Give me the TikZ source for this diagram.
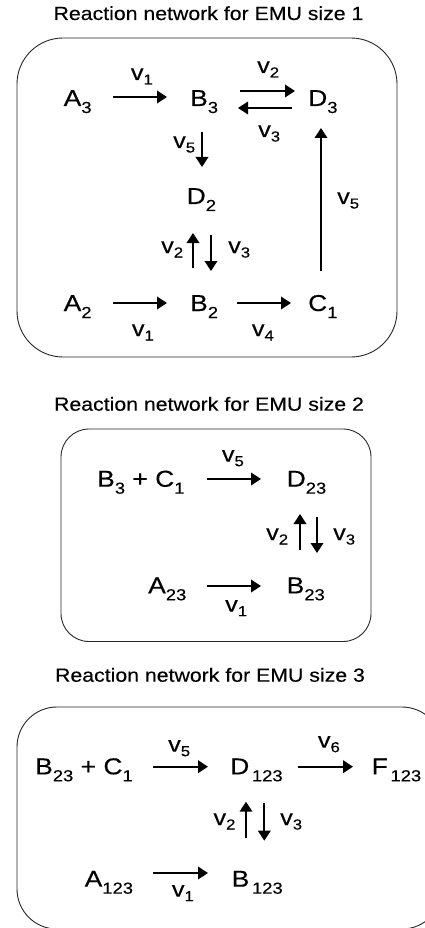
\documentclass[tikz,border=0pt]{standalone}
\usepackage{fontspec}
\setmainfont{Liberation Sans}
\newfontfamily\lblfont[FakeStretch=1.15,FakeBold=0.3]{Liberation Sans}
\newfontfamily\ttlfont[FakeStretch=1.12,FakeBold=0.2]{Liberation Sans}
\usetikzlibrary{arrows.meta,calc}

% species with a lowered index, and a flux label v_i
\newcommand{\bigtxt}{\lblfont\fontsize{23}{27}\selectfont}
\newcommand{\mol}[2]{{\bigtxt #1\raisebox{-7pt}{\fontsize{16}{18}\selectfont #2}}}
\newcommand{\rate}[1]{{\lblfont\fontsize{22}{25}\selectfont v\raisebox{-4.5pt}{\fontsize{14.5}{16}\selectfont #1}}}

\tikzset{
  lab/.style={inner sep=0pt, anchor=base west, font=\bigtxt},
  ttl/.style={inner sep=0pt, anchor=base, font=\ttlfont\fontsize{19}{22}\selectfont},
  panel/.style={draw=black!85, line width=0.9pt},
  rxn/.style={line width=2.1pt, -{Triangle[length=10pt,width=12.5pt]}},
}

\begin{document}
\begin{tikzpicture}[x=1pt,y=-1pt]
\useasboundingbox (0,0) rectangle (425,928);
\clip (0,0) rectangle (425,928);

% ---------------- EMU size 1 ----------------
\node[ttl] (t1) at (208.5,20) {Reaction network for EMU size 1};
\draw[panel, rounded corners=46pt] (17,38) rectangle (397,357);

\node[lab] (A3) at (63.5,106) {\mol{A}{3}};
\node[lab] (B3) at (190,106)  {\mol{B}{3}};
\node[lab] (D3) at (308,106)  {\mol{D}{3}};
\node[lab] (D2) at (186.5,204) {\mol{D}{2}};
\node[lab] (A2) at (63.5,311) {\mol{A}{2}};
\node[lab] (B2) at (190,311)  {\mol{B}{2}};
\node[lab] (C1) at (308,311)  {\mol{C}{1}};

\draw[rxn] ($(A3.base west)+(49.5,-9)$) -- ($(B3.base west)+(-23,-9)$);
\draw[rxn] ($(B3.base west)+(50,-15)$) -- ($(D3.base west)+(-13,-15)$);
\draw[rxn] ($(D3.base west)+(-16,2)$) -- ($(B3.base west)+(48,2)$);
\draw[rxn] ($(B3.base west)+(12,26)$) -- ($(D2.base west)+(15.5,-37)$);
\draw[rxn] ($(B2.base west)+(3,-43)$) -- ($(D2.base west)+(6.5,29)$);
\draw[rxn] ($(D2.base west)+(24.5,31)$) -- ($(B2.base west)+(21,-40)$);
\draw[rxn] ($(A2.base west)+(49.5,-8)$) -- ($(B2.base west)+(-23,-8)$);
\draw[rxn] ($(B2.base west)+(47,-8)$) -- ($(C1.base west)+(-17,-8)$);
\draw[rxn] ($(C1.base west)+(13,-40)$) -- ($(D3.base west)+(13,22)$);

\node[lab] (r1a) at (130.7,80)  {\rate{1}};
\node[lab] (r2a) at (257,73)    {\rate{2}};
\node[lab] (r3a) at (258,137)   {\rate{3}};
\node[lab] (r5a) at (173,148)   {\rate{5}};
\node[lab] (r5b) at (337,204)   {\rate{5}};
\node[lab] (r2b) at (161,253)   {\rate{2}};
\node[lab] (r3b) at (228,253)   {\rate{3}};
\node[lab] (r1b) at (131.7,336) {\rate{1}};
\node[lab] (r4)  at (251.7,336) {\rate{4}};

% ---------------- EMU size 2 ----------------
\node[ttl] (t2) at (209,410.7) {Reaction network for EMU size 2};
\draw[panel, rounded corners=28pt] (61,429) rectangle (371,641.5);

\node[lab] (BC2) at (97,486.7)    {\mol{B}{3} + \mol{C}{1}};
\node[lab] (D23) at (286.5,486.7) {\mol{D}{23}};
\node[lab] (A23) at (148,593.3)   {\mol{A}{23}};
\node[lab] (B23) at (286.5,593.3) {\mol{B}{23}};

\draw[rxn] ($(BC2.base west)+(110,-7.7)$) -- ($(D23.base west)+(-25.5,-7.7)$);
\draw[rxn] ($(A23.base west)+(59,-7.3)$) -- ($(B23.base west)+(-25.5,-7.3)$);
\draw[rxn] ($(B23.base west)+(13.5,-43.3)$) -- ($(D23.base west)+(13.5,27.3)$);
\draw[rxn] ($(D23.base west)+(30.5,30.3)$) -- ($(B23.base west)+(30.5,-40.3)$);

\node[lab] (s5) at (221.7,461.7) {\rate{5}};
\node[lab] (s2) at (266,540)     {\rate{2}};
\node[lab] (s3) at (333,540)     {\rate{3}};
\node[lab] (s1) at (225,611.7)   {\rate{1}};

% ---------------- EMU size 3 ----------------
\node[ttl] (t3) at (210,681.7) {Reaction network for EMU size 3};
\draw[panel, rounded corners=40pt] (17,707) rectangle (442,929);

\node[lab] (BC3)  at (35,774.3)    {\mol{B}{23} + \mol{C}{1}};
\node[lab] (D123) at (230,774.3)   {\mol{D}{\,123}};
\node[lab] (F123) at (371.5,774.3) {\mol{F}{\,123}};
\node[lab] (A123) at (84.5,886.7)  {\mol{A}{123}};
\node[lab] (B123) at (231.5,886.7) {\mol{B}{\,123}};

\draw[rxn] ($(BC3.base west)+(118,-7.6)$) -- ($(D123.base west)+(-22,-7.6)$);
\draw[rxn] ($(D123.base west)+(68,-7.6)$) -- ($(F123.base west)+(-18.5,-7.6)$);
\draw[rxn] ($(A123.base west)+(68.5,-13.7)$) -- ($(B123.base west)+(-23.5,-13.7)$);
\draw[rxn] ($(B123.base west)+(14.5,-49)$) -- ($(D123.base west)+(16,27.4)$);
\draw[rxn] ($(D123.base west)+(34.3,28.7)$) -- ($(B123.base west)+(32.8,-46)$);

\node[lab] (u5) at (168,751.7)   {\rate{5}};
\node[lab] (u6) at (317.7,747.7) {\rate{6}};
\node[lab] (u2) at (213.3,825)   {\rate{2}};
\node[lab] (u3) at (280,825)     {\rate{3}};
\node[lab] (u1) at (171.7,896.7) {\rate{1}};
\end{tikzpicture}
\end{document}
